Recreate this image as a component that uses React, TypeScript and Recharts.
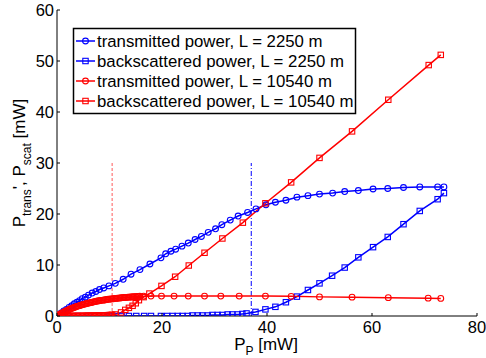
import React from 'react';
import { LineChart, Line, XAxis, YAxis, ReferenceLine } from 'recharts';

// L = 2250 m, transmitted power
const trans2250X = [0.3, 0.8, 1.3, 1.8, 2.3, 2.8, 3.3, 3.8, 4.3, 4.8, 5.4, 6.0, 6.7, 7.4, 8.1, 8.9, 9.9, 11.1, 12.6, 14.1, 15.8, 17.7, 19.8, 20.7, 21.7, 22.6, 23.8, 25.0, 26.3, 27.5, 28.8, 30.2, 31.4, 33.0, 34.5, 36.3, 37.9, 39.8, 41.6, 43.6, 45.7, 47.8, 50.0, 52.5, 54.8, 57.4, 60.2, 63.0, 66.0, 69.1, 72.5, 73.7];
const trans2250Y = [0.2, 0.6, 1.0, 1.3, 1.7, 2.0, 2.4, 2.7, 3.0, 3.4, 3.7, 4.1, 4.5, 4.8, 5.2, 5.5, 5.9, 6.4, 7.2, 8.2, 9.1, 10.2, 11.4, 12.2, 12.7, 13.1, 13.7, 14.3, 15.0, 15.6, 16.4, 17.1, 17.9, 18.8, 19.6, 20.3, 21.0, 21.8, 22.3, 22.7, 23.3, 23.6, 23.9, 24.1, 24.4, 24.6, 24.9, 25.0, 25.2, 25.3, 25.3, 25.3];

// L = 2250 m, backscattered power
const scat2250X = [0.5, 2, 4, 6, 8, 10, 11.2, 12.3, 13.7, 15.1, 16.6, 17.9, 19.8, 21.0, 22.0, 23.0, 23.9, 24.9, 25.8, 26.8, 27.7, 28.7, 29.6, 30.6, 31.5, 32.5, 33.4, 34.4, 35.3, 36.1, 37.8, 39.7, 41.6, 43.6, 45.7, 47.8, 50.0, 52.4, 54.8, 57.4, 60.2, 63.0, 66.0, 69.1, 72.5, 73.7];
const scat2250Y = [0, 0, 0, 0, 0, 0, 0, 0, 0, 0, 0, 0, 0, 0, 0, 0, 0, 0, 0.1, 0.1, 0.1, 0.1, 0.2, 0.2, 0.2, 0.3, 0.3, 0.3, 0.4, 0.5, 0.8, 1.3, 1.8, 2.7, 3.8, 5.1, 6.4, 7.9, 9.5, 11.5, 13.5, 15.5, 18.0, 20.6, 22.9, 24.1];

// L = 10540 m, transmitted power (dense sweep at low pump power)
const trans10540X = [
  0.25, 0.5, 0.75, 1.0, 1.25, 1.5, 1.75, 2.0, 2.25, 2.5, 2.75, 3.0, 3.25, 3.5, 3.75, 4.0,
  4.25, 4.5, 4.75, 5.0, 5.25, 5.5, 5.75, 6.0, 6.25, 6.5, 6.75, 7.0, 7.25, 7.5, 7.75, 8.0,
  8.25, 8.5, 8.75, 9.0, 9.25, 9.5, 9.75, 10.0, 10.25, 10.5, 10.75, 11.0, 11.25, 11.5, 11.75, 12.0,
  12.25, 12.5, 12.75, 13.0, 13.25, 13.5, 13.75, 14.0, 14.25, 14.5, 14.75, 15.0, 15.25, 15.5, 15.75,
  16.5, 17.9, 19.9, 22.3, 25.0, 28.1, 31.2, 34.7, 39.7, 44.6, 50.0, 56.2, 63.1, 70.7, 73.1,
];
const trans10540Y = [
  0.16, 0.32, 0.47, 0.61, 0.75, 0.88, 1.01, 1.13, 1.25, 1.36, 1.47, 1.57, 1.67, 1.76, 1.86, 1.94,
  2.03, 2.11, 2.19, 2.26, 2.33, 2.4, 2.47, 2.53, 2.59, 2.65, 2.71, 2.77, 2.83, 2.88, 2.93, 2.98,
  3.03, 3.07, 3.11, 3.15, 3.19, 3.23, 3.27, 3.3, 3.33, 3.36, 3.39, 3.42, 3.45, 3.48, 3.51, 3.54,
  3.57, 3.6, 3.62, 3.64, 3.66, 3.68, 3.7, 3.72, 3.74, 3.76, 3.78, 3.8, 3.82, 3.84, 3.86,
  3.88, 3.9, 3.9, 3.9, 3.9, 3.9, 3.9, 3.9, 3.9, 3.85, 3.75, 3.7, 3.6, 3.5, 3.45,
];

// L = 10540 m, backscattered power
const scat10540X = [
  0.25, 0.5, 0.75, 1.0, 1.25, 1.5, 1.75, 2.0, 2.25, 2.5, 2.75, 3.0, 3.25, 3.5, 3.75, 4.0,
  4.25, 4.5, 4.75, 5.0, 5.25, 5.5, 5.75, 6.0, 6.25, 6.5, 6.75, 7.0, 7.25, 7.5, 7.75, 8.0,
  8.25, 8.5, 8.75, 9.0, 9.25, 9.5, 9.75, 10.0, 10.25, 10.5,
  11.1, 12.2, 13.0, 13.7, 14.4, 15.0, 15.6, 16.5, 17.6, 19.9, 22.5, 25.1, 28.1, 31.5, 35.4, 39.7, 44.6, 50.0, 56.2, 63.1, 70.8, 73.1,
];
const scat10540Y = [
  0, 0, 0, 0, 0, 0, 0, 0, 0, 0, 0, 0, 0, 0, 0, 0,
  0, 0, 0, 0.02, 0.02, 0.03, 0.03, 0.04, 0.04, 0.05, 0.05, 0.06, 0.06, 0.07, 0.08, 0.09,
  0.1, 0.11, 0.12, 0.13, 0.14, 0.15, 0.16, 0.18, 0.2, 0.22,
  0.3, 0.7, 1.2, 1.6, 2.0, 2.5, 3.1, 3.7, 4.4, 5.9, 7.7, 9.9, 12.4, 15.2, 18.3, 22.1, 26.2, 31.0, 36.2, 42.4, 49.2, 51.2,
];

const xTicks = [0, 20, 40, 60, 80];
const yTicks = [0, 10, 20, 30, 40, 50, 60];
const legendLabels = [
  'transmitted power, L = 2250 m',
  'backscattered power, L = 2250 m',
  'transmitted power, L = 10540 m',
  'backscattered power, L = 10540 m',
];
const markerX = [10.5, 37];

const BLUE = '#0000ff';
const RED = '#ff0000';
const FONT = '"Liberation Sans", Arial, Helvetica, sans-serif';

const toPoints = (xs: number[], ys: number[]) => xs.map((x, i) => ({ x, y: ys[i] }));

const series = [
  { name: legendLabels[0], data: toPoints(trans2250X, trans2250Y), color: BLUE, shape: 'circle' },
  { name: legendLabels[1], data: toPoints(scat2250X, scat2250Y), color: BLUE, shape: 'square' },
  { name: legendLabels[2], data: toPoints(trans10540X, trans10540Y), color: RED, shape: 'circle' },
  { name: legendLabels[3], data: toPoints(scat10540X, scat10540Y), color: RED, shape: 'square' },
];

const Marker = ({ cx, cy, color, shape }: any) =>
  shape === 'circle' ? (
    <circle cx={cx} cy={cy} r={2.9} fill="none" stroke={color} strokeWidth={1.1} />
  ) : (
    <rect x={cx - 2.7} y={cy - 2.7} width={5.4} height={5.4} fill="none" stroke={color} strokeWidth={1.1} />
  );

const XTick = ({ x, y, payload }: any) => (
  <g>
    <line x1={x} y1={y} x2={x} y2={y - 3} stroke="#000" />
    <text x={x} y={y + 16.5} textAnchor="middle" fontSize={16.5} fontFamily={FONT} fill="#000">
      {payload.value}
    </text>
  </g>
);

const YTick = ({ x, y, payload }: any) => (
  <g>
    <line x1={x} y1={y} x2={x + 3} y2={y} stroke="#000" />
    <text x={x - 3} y={y + 6} textAnchor="end" fontSize={16.5} fontFamily={FONT} fill="#000">
      {payload.value}
    </text>
  </g>
);

export default function App() {
  return (
    <div style={{ position: 'fixed', left: 0, top: 0, width: 486, height: 358, background: '#fff' }}>
      <LineChart width={486} height={358} margin={{ top: 10, right: 9, bottom: 0, left: 0 }}>
        <XAxis
          type="number"
          dataKey="x"
          domain={[0, 80]}
          ticks={xTicks}
          height={42}
          tickSize={0}
          tickMargin={0}
          tickLine={false}
          tick={<XTick />}
          axisLine={{ stroke: '#000' }}
          allowDataOverflow
        />
        <YAxis
          type="number"
          dataKey="y"
          domain={[0, 60]}
          ticks={yTicks}
          width={57}
          tickSize={0}
          tickMargin={0}
          tickLine={false}
          tick={<YTick />}
          axisLine={{ stroke: '#000' }}
          allowDataOverflow
        />
        <ReferenceLine
          segment={[{ x: markerX[0], y: 0 }, { x: markerX[0], y: 30 }]}
          stroke="#ff5a5a"
          strokeDasharray="3 2"
        />
        <ReferenceLine
          segment={[{ x: markerX[1], y: 0 }, { x: markerX[1], y: 30 }]}
          stroke={BLUE}
          strokeDasharray="5 2 1 2"
        />
        {series.map((s) => (
          <Line
            key={s.name}
            data={s.data}
            dataKey="y"
            type="linear"
            stroke={s.color}
            strokeWidth={1.5}
            isAnimationActive={false}
            dot={(p: any) => <Marker key={`${s.name}-${p.index}`} cx={p.cx} cy={p.cy} color={s.color} shape={s.shape} />}
            activeDot={false}
          />
        ))}
      </LineChart>
      <svg
        width={486}
        height={358}
        style={{ position: 'absolute', left: 0, top: 0, pointerEvents: 'none' }}
        fontFamily={FONT}
      >
        <text x={266} y={350} textAnchor="middle" fontSize={17}>
          P<tspan fontSize={12} dy={5}>P</tspan>
          <tspan dy={-5}> [mW]</tspan>
        </text>
        <text transform="translate(25,163) rotate(-90)" textAnchor="middle" fontSize={17}>
          P<tspan fontSize={12} dy={6}>trans</tspan>
          <tspan dy={-6}>', P</tspan>
          <tspan fontSize={12} dy={6}>scat</tspan>
          <tspan dy={-6}> [mW]</tspan>
        </text>
        <rect x={73.5} y={28.5} width={282} height={85} fill="#fff" stroke="#000" strokeWidth={1.5} />
        {series.map((s, i) => {
          const cy = 41 + i * 20;
          return (
            <g key={s.name}>
              <line x1={76} y1={cy} x2={95} y2={cy} stroke={s.color} strokeWidth={1.5} />
              <Marker cx={85.5} cy={cy} color={s.color} shape={s.shape} />
              <text x={97} y={cy + 6} fontSize={16.8} fill="#000">
                {s.name}
              </text>
            </g>
          );
        })}
      </svg>
    </div>
  );
}
